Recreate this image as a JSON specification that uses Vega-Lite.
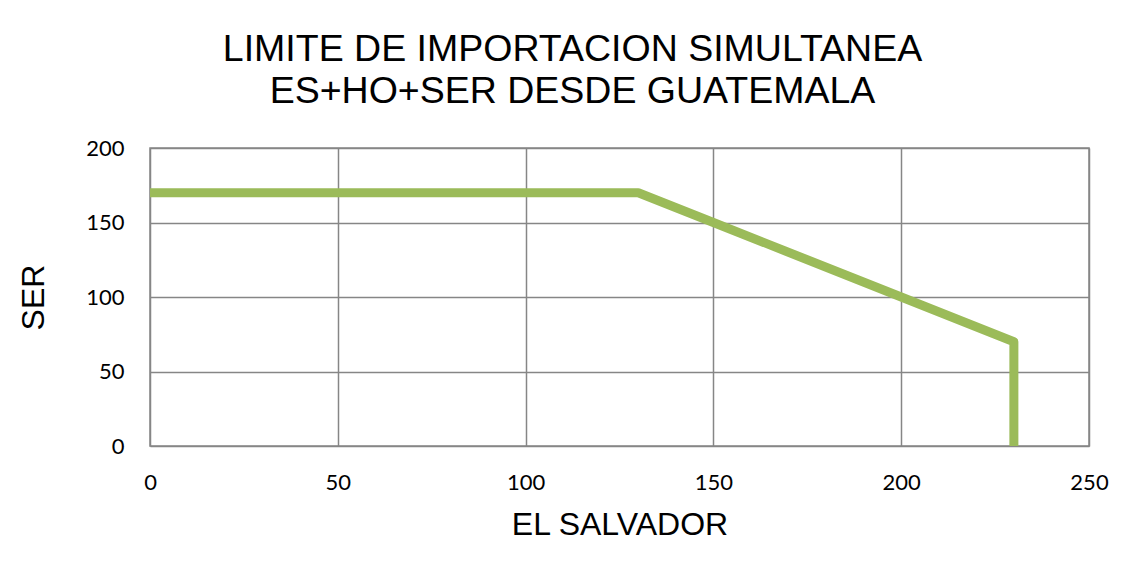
{
  "$schema": "https://vega.github.io/schema/vega-lite/v6.json",
  "autosize": "none",
  "width": 939,
  "height": 298,
  "padding": {"left": 150, "top": 148, "right": 45, "bottom": 123},
  "background": "white",
  "title": {
    "text": ["LIMITE DE IMPORTACION SIMULTANEA", "ES+HO+SER DESDE GUATEMALA"],
    "font": "Liberation Sans",
    "fontSize": 37.5,
    "fontWeight": "normal",
    "color": "black",
    "lineHeight": 42,
    "anchor": "middle",
    "dx": -47,
    "offset": 27
  },
  "data": {
    "values": [
      {"es": 0, "ser": 170},
      {"es": 130, "ser": 170},
      {"es": 150, "ser": 150},
      {"es": 200, "ser": 100},
      {"es": 230, "ser": 70},
      {"es": 230, "ser": 0}
    ]
  },
  "mark": {"type": "line", "color": "#9BBB59", "strokeWidth": 9, "strokeJoin": "round", "strokeCap": "butt", "clip": false},
  "encoding": {
    "x": {
      "field": "es", "type": "quantitative",
      "scale": {"domain": [0, 250], "nice": false},
      "axis": {"values": [0, 50, 100, 150, 200, 250], "title": "EL SALVADOR", "labelPadding": 26, "labelFlush": false, "titlePadding": 16}
    },
    "y": {
      "field": "ser", "type": "quantitative",
      "scale": {"domain": [0, 200], "nice": false},
      "axis": {"values": [0, 50, 100, 150, 200], "title": "SER", "labelPadding": 26, "titlePadding": 35}
    },
    "order": {"value": 0}
  },
  "config": {
    "view": {"stroke": "#868686", "strokeWidth": 1.5},
    "axis": {
      "domain": false,
      "ticks": false,
      "grid": true,
      "gridColor": "#868686",
      "gridWidth": 1.5,
      "gridOpacity": 1,
      "labelFont": "Lato",
      "labelFontSize": 22,
      "labelColor": "black",
      "titleFont": "Liberation Sans",
      "titleFontSize": 32,
      "titleFontWeight": "normal",
      "titleColor": "black"
    }
  }
}
